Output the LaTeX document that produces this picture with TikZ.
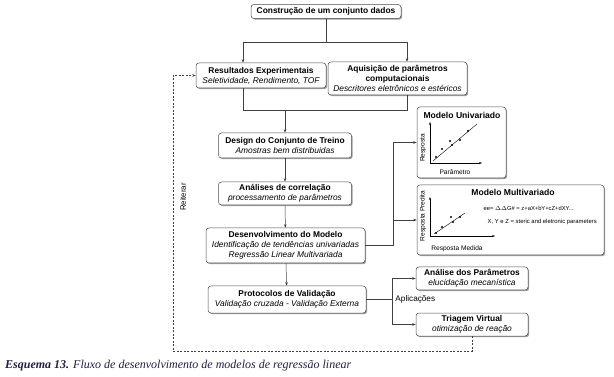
\documentclass[tikz,border=0pt]{standalone}
\usepackage{fontspec}
\setmainfont{Liberation Serif}
\setsansfont{Liberation Sans}
\usetikzlibrary{arrows.meta,shadows}
\definecolor{captionInk}{rgb}{0.12,0.12,0.25}

\begin{document}
\begin{tikzpicture}[x=1pt, y=-1pt,
  font=\sffamily\fontsize{8.4}{10}\selectfont,
  box/.style={draw=\flowBoxColor, line width=0.5pt, fill=white, rounded corners=3pt,
    align=center, inner sep=1pt, drop shadow={shadow xshift=1.2pt, shadow yshift=-1.2pt, fill=black!55, opacity=0.7}},
  link/.style={draw=\flowLineColor, line width=0.5pt},
  arr/.style={link, -{Stealth[length=3.5pt, width=2.6pt]}},
  loopline/.style={arr, dashed, dash pattern=on 2pt off 1.5pt},
  axis/.style={draw=black, line width=0.5pt, -{Stealth[length=3pt, width=2.2pt]}},
  small/.style={font=\sffamily\fontsize{6.6}{8}\selectfont, inner sep=0.5pt}]
% Flowchart of the regression model workflow
\providecommand{\flowBoxColor}{black!70}
\providecommand{\flowLineColor}{black!75}
\useasboundingbox (0,0) rectangle (614,377);
% Boxes
\node[box, minimum width=150pt, minimum height=14pt] (build) at (326,11.5) {\bfseries Construção de um conjunto dados};
\node[box, minimum width=130pt, minimum height=25pt] (expRes) at (261,75.5)
  {{\bfseries Resultados Experimentais}\\{\itshape Seletividade, Rendimento, TOF}};
\node[box, minimum width=139pt, minimum height=33pt] (compPar) at (397.5,78.5)
  {{\bfseries Aquisição de parâmetros}\\{\bfseries computacionais}\\{\itshape Descritores eletrônicos e estéricos}};
\node[box, minimum width=133pt, minimum height=25pt] (design) at (285,145.5)
  {{\bfseries Design do Conjunto de Treino}\\{\itshape Amostras bem distribuidas}};
\node[box, minimum width=133pt, minimum height=23pt] (corr) at (285,193.5)
  {{\bfseries Análises de correlação}\\{\itshape processamento de parâmetros}};
\node[box, minimum width=159pt, minimum height=35pt] (devel) at (285.5,245.5)
  {{\bfseries Desenvolvimento do Modelo}\\{\itshape Identificação de tendências univariadas}\\{\itshape Regressão Linear Multivariada}};
\node[box, minimum width=158pt, minimum height=27pt] (valid) at (287,299.5)
  {{\bfseries Protocolos de Validação}\\{\itshape Validação cruzada - Validação Externa}};
\node[box, minimum width=89pt, minimum height=71pt] (uniMod) at (461.5,142.5) {};
\node[box, minimum width=187pt, minimum height=70pt] (multiMod) at (510.5,220) {};
\node[box, minimum width=112pt, minimum height=23pt] (paramAn) at (472,278.5)
  {{\bfseries Análise dos Parâmetros}\\{\itshape elucidação mecanística}};
\node[box, minimum width=112pt, minimum height=23pt] (screen) at (472,324.5)
  {{\bfseries Triagem Virtual}\\{\itshape otimização de reação}};
% Connectors
\coordinate (splitL) at (243,42);
\coordinate (splitR) at (407,42);
\coordinate (merge) at (285,110);
\coordinate (fanM) at (393,245.5);
\coordinate (fanV) at (392,299.5);
\coordinate (loopBL) at (173,351);
\draw[arr] (build.south) |- (splitL) -- (splitL |- expRes.north);
\draw[arr] (build.south) |- (splitR) -- (splitR |- compPar.north);
\draw[link] (splitL |- expRes.south) |- (merge);
\draw[link] (splitR |- compPar.south) |- (merge);
\draw[arr] (merge) -- (design.north);
\draw[arr] (design) -- (corr);
\draw[arr] (corr) -- (devel);
\draw[arr] (devel) -- (valid);
\draw[arr] (devel.east) -- (fanM) |- (uniMod.west);
\draw[arr] (fanM) |- (multiMod.west);
\draw[arr] (valid.east) -- (fanV) |- (paramAn.west);
\draw[arr] (fanV) |- (screen.west);
\node[anchor=west, inner sep=1pt, font=\sffamily\fontsize{8.2}{10}\selectfont] (apps) at (fanV) {~Aplicações};
\draw[loopline] (screen.south) |- (loopBL) |- (expRes.west);
\node[rotate=90, font=\sffamily\fontsize{7.8}{9}\selectfont] (again) at (183,197) {Reiterar};
% Univariate plot
\node[font=\sffamily\bfseries\fontsize{8.6}{10}\selectfont] (uniTitle) at (462,115) {Modelo Univariado};
\draw[axis] (430,163) -- (430,122);
\draw[axis] (430,163) -- (482,163);
\draw[black, line width=0.4pt] (433,161) -- (477,124);
\foreach \px/\py in {436/157, 442/149, 450/141, 452/145, 460/140, 468/131}
  \fill (\px,\py) circle (1.2pt);
\node[small, rotate=90] (uniY) at (423,148) {Resposta};
\node[small] (uniX) at (455,172) {Parâmetro};
% Multivariate plot
\node[font=\sffamily\bfseries\fontsize{8.6}{10}\selectfont] (multiTitle) at (513,192) {Modelo Multivariado};
\draw[axis] (430,236) -- (430,197);
\draw[axis] (430,236) -- (495,236);
\draw[black, line width=0.4pt] (434,234) -- (465,213);
\foreach \px/\py in {436/233, 442/227, 451/217, 453/222, 460/217}
  \fill (\px,\py) circle (1.2pt);
\node[small, rotate=90] (multiY) at (423,216) {Resposta Predita};
\node[small] (multiX) at (457,249) {Resposta Medida};
\node[small, anchor=west, font=\sffamily\fontsize{5.8}{7}\selectfont] (formula) at (483,208) {ee= $\Delta\Delta$G\# = z+aX+bY+cZ+dXY...};
\node[small, anchor=west, font=\sffamily\fontsize{5.9}{7}\selectfont] (legend) at (487,222) {X, Y e Z = steric and eletronic parameters};
% Caption
\node[anchor=west, inner sep=0pt, text=captionInk, font=\rmfamily\itshape\fontsize{12}{14}\selectfont] (caption) at (5,366)
  {\bfseries Esquema 13.\mdseries{} Fluxo de desenvolvimento de modelos de regressão linear};
\end{tikzpicture}
\end{document}
